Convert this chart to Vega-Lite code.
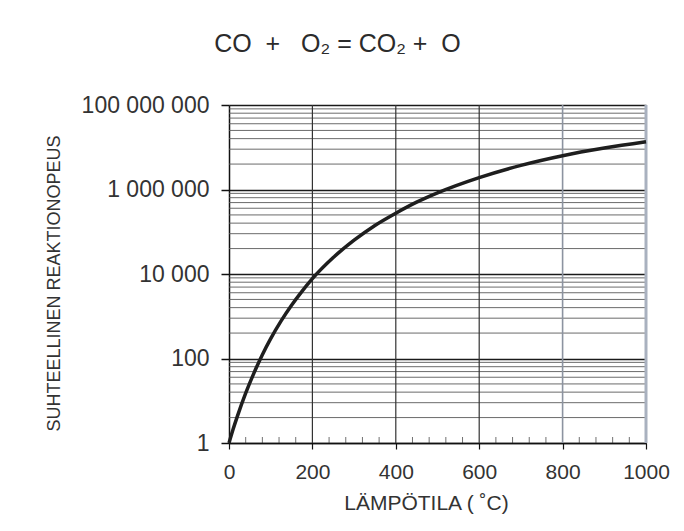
{
  "$schema": "https://vega.github.io/schema/vega-lite/v6.json",
  "width": 417,
  "height": 338,
  "autosize": "none",
  "padding": {"left": 229, "top": 105, "right": 38, "bottom": 88},
  "background": "white",
  "config": {"view": {"stroke": null}, "font": "Liberation Sans"},
  "title": {
    "text": "CO\u00a0\u00a0+\u00a0\u00a0\u00a0O₂\u00a0= CO₂\u00a0+\u00a0\u00a0O",
    "fontSize": 25,
    "fontWeight": "normal",
    "color": "#2b2b2b",
    "anchor": "middle",
    "dx": -100,
    "offset": 37
  },
  "datasets": {
    "curve": [
      {"t": 0, "k": 1},
      {"t": 10, "k": 2.14},
      {"t": 20, "k": 4.27},
      {"t": 40, "k": 15.1},
      {"t": 60, "k": 45.7},
      {"t": 80, "k": 123},
      {"t": 100, "k": 295},
      {"t": 125, "k": 776},
      {"t": 150, "k": 1820},
      {"t": 175, "k": 3890},
      {"t": 200, "k": 7760},
      {"t": 250, "k": 24500},
      {"t": 300, "k": 63100},
      {"t": 350, "k": 141000},
      {"t": 400, "k": 275000},
      {"t": 450, "k": 501000},
      {"t": 500, "k": 832000},
      {"t": 600, "k": 1910000},
      {"t": 700, "k": 3720000},
      {"t": 800, "k": 6310000},
      {"t": 900, "k": 9550000},
      {"t": 1000, "k": 13500000}
    ],
    "minorGrid": [
      {"v": 4}, {"v": 9}, {"v": 16}, {"v": 25}, {"v": 36}, {"v": 49}, {"v": 64}, {"v": 81},
      {"v": 400}, {"v": 900}, {"v": 1600}, {"v": 2500}, {"v": 3600}, {"v": 4900}, {"v": 6400}, {"v": 8100},
      {"v": 40000}, {"v": 90000}, {"v": 160000}, {"v": 250000}, {"v": 360000}, {"v": 490000}, {"v": 640000}, {"v": 810000},
      {"v": 4000000}, {"v": 9000000}, {"v": 16000000}, {"v": 25000000}, {"v": 36000000}, {"v": 49000000}, {"v": 64000000}, {"v": 81000000}
    ],
    "minorTicks": [
      {"t": 40}, {"t": 80}, {"t": 120}, {"t": 160},
      {"t": 240}, {"t": 280}, {"t": 320}, {"t": 360},
      {"t": 440}, {"t": 480}, {"t": 520}, {"t": 560},
      {"t": 640}, {"t": 680}, {"t": 720}, {"t": 760},
      {"t": 840}, {"t": 880}, {"t": 920}, {"t": 960}
    ],
    "gridDark": [{"t": 200}, {"t": 400}, {"t": 600}],
    "grid800": [{"t": 800}],
    "grid1000": [{"t": 1000}]
  },
  "layer": [
    {
      "data": {"name": "curve"},
      "mark": {"type": "line", "color": "#1e1e1e", "strokeWidth": 3.5, "interpolate": "monotone", "opacity": 0},
      "encoding": {
        "x": {
          "field": "t",
          "type": "quantitative",
          "scale": {"domain": [0, 1000], "nice": false},
          "axis": {
            "values": [0, 200, 400, 600, 800, 1000],
            "format": "d",
            "title": "LÄMPÖTILA (\u00a0˚C)",
            "grid": false,
            "domainColor": "#111111",
            "domainWidth": 1.5,
            "tickColor": "#111111",
            "tickWidth": 1.2,
            "tickSize": 6,
            "labelFontSize": 21,
            "labelColor": "#333333",
            "labelPadding": 12,
            "labelFlush": false,
            "labelOverlap": false,
            "titleFontSize": 21,
            "titleFontWeight": "normal",
            "titleColor": "#333333",
            "titlePadding": 10,
            "titleX": 197
          }
        },
        "y": {
          "field": "k",
          "type": "quantitative",
          "scale": {"type": "log", "domain": [1, 100000000], "nice": false},
          "axis": {
            "values": [1, 100, 10000, 1000000, 100000000],
            "labelExpr": "datum.value == 1 ? '1' : datum.value == 100 ? '100' : datum.value == 10000 ? '10 000' : datum.value == 1000000 ? '1 000 000' : '100 000 000'",
            "title": "SUHTEELLINEN REAKTIONOPEUS",
            "grid": true,
            "gridColor": "#1a1a1a",
            "gridWidth": 1.5,
            "domainColor": "#111111",
            "domainWidth": 1.5,
            "tickSize": 8,
            "tickColor": "#111111",
            "tickWidth": 1.5,
            "labelFontSize": 23,
            "labelPadding": 12,
            "labelColor": "#333333",
            "labelOverlap": false,
            "labelBound": false,
            "titleFontSize": 18,
            "titleFontWeight": "normal",
            "titleColor": "#333333",
            "titlePadding": 18,
            "titleY": 178
          }
        }
      }
    },
    {
      "data": {"name": "minorGrid"},
      "mark": {"type": "rule", "color": "#5a5a5a", "strokeWidth": 0.9},
      "encoding": {
        "y": {"field": "v", "type": "quantitative"}
      }
    },
    {
      "data": {"name": "gridDark"},
      "mark": {"type": "rule", "color": "#333333", "strokeWidth": 1.2},
      "encoding": {
        "x": {"field": "t", "type": "quantitative"}
      }
    },
    {
      "data": {"name": "grid800"},
      "mark": {"type": "rule", "color": "#8c93a0", "strokeWidth": 1.6},
      "encoding": {
        "x": {"field": "t", "type": "quantitative"}
      }
    },
    {
      "data": {"name": "grid1000"},
      "mark": {"type": "rule", "color": "#a9b1bf", "strokeWidth": 3},
      "encoding": {
        "x": {"field": "t", "type": "quantitative"}
      }
    },
    {
      "data": {"name": "minorTicks"},
      "mark": {"type": "tick", "orient": "vertical", "size": 6, "thickness": 1, "color": "#333333", "yOffset": -3},
      "encoding": {
        "x": {"field": "t", "type": "quantitative"},
        "y": {"datum": 1, "type": "quantitative"}
      }
    },
    {
      "data": {"name": "curve"},
      "mark": {"type": "line", "color": "#1e1e1e", "strokeWidth": 3.5, "interpolate": "monotone"},
      "encoding": {
        "x": {"field": "t", "type": "quantitative"},
        "y": {"field": "k", "type": "quantitative"}
      }
    }
  ]
}
